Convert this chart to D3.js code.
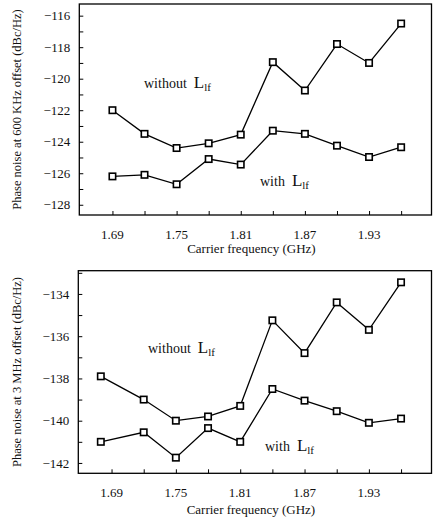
<!DOCTYPE html>
<html><head><meta charset="utf-8">
<script src="https://cdn.jsdelivr.net/npm/d3@7"></script>
<style>
html,body{margin:0;padding:0;background:#fff;}
svg{display:block;}
svg text{font-family:"Liberation Serif","Times New Roman","Tinos","DejaVu Serif",serif !important;}
</style></head>
<body>
<svg id="chart" width="433" height="519"></svg>
<script>
// ---- data ----
const freqTop = [1.69, 1.72, 1.75, 1.78, 1.81, 1.84, 1.87, 1.90, 1.93, 1.96];
const noise600Without = [-122.0, -123.5, -124.4, -124.1, -123.55, -118.95, -120.75, -117.8, -119.0, -116.5];
const noise600With = [-126.2, -126.1, -126.7, -125.1, -125.45, -123.3, -123.5, -124.25, -124.97, -124.35];
const freqBottom = [1.68, 1.72, 1.75, 1.78, 1.81, 1.84, 1.87, 1.90, 1.93, 1.96];
const noise3MWithout = [-137.9, -139.0, -140.0, -139.8, -139.3, -135.25, -136.8, -134.4, -135.7, -133.45];
const noise3MWith = [-141.0, -140.55, -141.75, -140.35, -141.0, -138.5, -139.05, -139.55, -140.1, -139.9];
const xTickValues = [1.69, 1.72, 1.75, 1.78, 1.81, 1.84, 1.87, 1.90, 1.93, 1.96];
const xTickLabels = ["1.69", "1.75", "1.81", "1.87", "1.93"];
const yTicksTop = [-128, -127, -126, -125, -124, -123, -122, -121, -120, -119, -118, -117, -116];
const yTicksBottom = [-142, -141, -140, -139, -138, -137, -136, -135, -134, -133];
const xTitle = "Carrier frequency (GHz)";
const yTitleTop = "Phase noise at 600 KHz offset (dBc/Hz)";
const yTitleBottom = "Phase noise at 3 MHz offset (dBc/Hz)";

const svg = d3.select("#chart");

function panel(cfg) {
  const {x0, x1, y0, y1, yDomain, yTicks, xs, sWithout, sWith, yTitle,
         tickLabelBase, titleBase, withoutPos, withPos} = cfg;
  const x = d3.scaleLinear().domain([1.6590, 1.9884]).range([x0, x1]);
  const y = d3.scaleLinear().domain(yDomain).range([y1, y0]);
  const g = svg.append("g");

  // y axis (inward ticks)
  const ya = g.append("g").attr("transform", `translate(${x0},0)`)
    .call(d3.axisLeft(y).tickValues(yTicks).tickSize(-4).tickPadding(9)
      .tickFormat(d => (Math.round(d) % 2 === 0) ? d3.format("d")(d) : ""));
  ya.select(".domain").remove();
  ya.selectAll("line").attr("stroke", "#000").attr("stroke-width", 1);
  ya.selectAll("text").attr("font-size", 13).attr("fill", "#111");

  // x axis (inward ticks)
  const xa = g.append("g").attr("transform", `translate(0,${y1})`)
    .call(d3.axisBottom(x).tickValues(xTickValues).tickSize(-4).tickFormat(""));
  xa.select(".domain").remove();
  xa.selectAll("line").attr("stroke", "#000").attr("stroke-width", 1);
  g.append("g").selectAll("text").data(xTickLabels).join("text")
    .attr("x", d => x(+d)).attr("y", tickLabelBase)
    .attr("text-anchor", "middle").attr("font-size", 13).attr("fill", "#111")
    .text(d => d);

  // frame
  g.append("rect").attr("x", x0).attr("y", y0)
    .attr("width", x1 - x0).attr("height", y1 - y0)
    .attr("fill", "none").attr("stroke", "#000").attr("stroke-width", 1.3);

  // titles
  g.append("text").attr("x", (x0 + x1) / 2 - 4).attr("y", titleBase)
    .attr("text-anchor", "middle").attr("font-size", 13).attr("fill", "#111")
    .text(xTitle);
  g.append("text")
    .attr("transform", `translate(21,${(y0 + y1) / 2}) rotate(-90)`)
    .attr("text-anchor", "middle").attr("font-size", 12.5).attr("fill", "#111")
    .text(yTitle);

  // series
  const line = d3.line().x(d => x(d[0])).y(d => y(d[1]));
  [sWithout, sWith].forEach(s => {
    const pts = xs.map((f, i) => [f, s[i]]);
    g.append("path").datum(pts).attr("d", line)
      .attr("fill", "none").attr("stroke", "#000").attr("stroke-width", 1.3);
    g.append("g").selectAll("rect").data(pts).join("rect")
      .attr("x", d => x(d[0]) - 3.2).attr("y", d => y(d[1]) - 3.2)
      .attr("width", 6.4).attr("height", 6.4)
      .attr("fill", "#fff").attr("stroke", "#000").attr("stroke-width", 1.6);
  });

  // annotations
  function label(pos, word) {
    const t = g.append("text").attr("x", pos[0]).attr("y", pos[1]).attr("fill", "#111");
    t.append("tspan").attr("font-size", 14).text(word + "\u00a0\u00a0");
    t.append("tspan").attr("font-size", 17).text("L");
    t.append("tspan").attr("font-size", 11).attr("dy", 3).text("lf");
  }
  label(withoutPos, "without");
  label(withPos, "with");
}

panel({x0: 79.3, x1: 431.5, y0: 4, y1: 215, yDomain: [-128.65, -115.26],
  yTicks: yTicksTop, xs: freqTop, sWithout: noise600Without, sWith: noise600With,
  yTitle: yTitleTop, tickLabelBase: 239, titleBase: 253,
  withoutPos: [144, 88], withPos: [260, 186]});

panel({x0: 78.3, x1: 431.5, y0: 270.7, y1: 473.3, yDomain: [-142.49, -132.9],
  yTicks: yTicksBottom, xs: freqBottom, sWithout: noise3MWithout, sWith: noise3MWith,
  yTitle: yTitleBottom, tickLabelBase: 497, titleBase: 514,
  withoutPos: [148, 353], withPos: [265, 451]});
</script>
</body></html>
